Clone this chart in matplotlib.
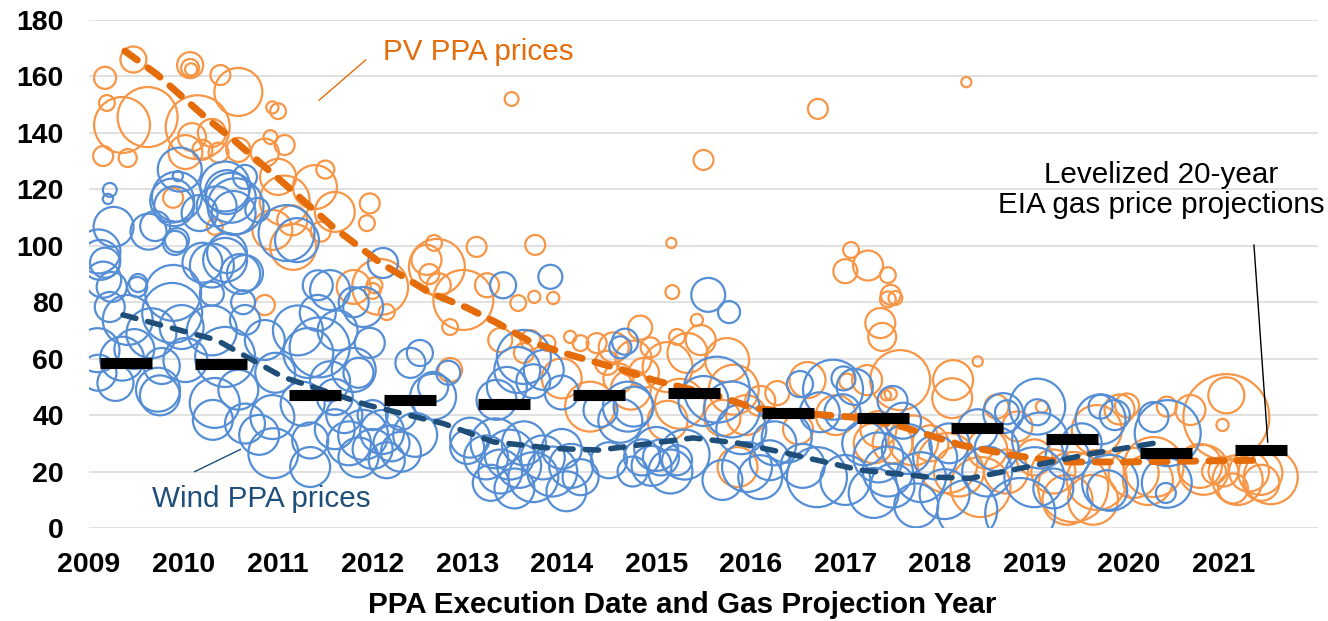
import matplotlib
matplotlib.use("Agg")
import matplotlib.pyplot as plt
import numpy as np

plt.rcParams['font.family'] = ['Liberation Sans', 'DejaVu Sans']

# PV PPAs: execution date, levelized price ($/MWh), capacity (MW)
pv_year = [
    2009.47, 2009.17, 2009.19, 2009.35, 2009.62, 2009.15, 2009.41, 2010.07, 2010.07, 2010.08,
    2010.39, 2010.58, 2010.15, 2010.94, 2011.00, 2010.09, 2010.30, 2010.02, 2010.20, 2010.37,
    2010.58, 2010.92, 2011.07, 2010.86, 2011.00, 2011.07, 2011.50, 2011.39, 2011.15, 2011.45,
    2009.89, 2010.33, 2010.94, 2011.97, 2011.94, 2011.60, 2011.16, 2011.80, 2012.00, 2012.57,
    2012.65, 2013.10, 2013.72, 2012.68, 2012.60, 2012.70, 2012.96, 2012.08, 2012.02, 2012.15,
    2012.82, 2013.21, 2013.54, 2013.91, 2012.82, 2013.35, 2013.60, 2013.67, 2013.85, 2014.09,
    2014.20, 2014.37, 2014.00, 2014.30, 2014.83, 2014.55, 2014.76, 2014.87, 2014.60, 2014.48,
    2014.94, 2014.73, 2015.17, 2015.22, 2015.43, 2015.47, 2015.75, 2015.33, 2015.12, 2015.82,
    2015.25, 2015.12, 2015.70, 2015.86, 2016.28, 2016.60, 2017.02, 2017.23, 2017.48, 2017.37,
    2017.39, 2017.48, 2017.00, 2017.06, 2017.24, 2017.45, 2017.53, 2017.45, 2013.47, 2015.50,
    2016.71, 2018.28, 2015.16, 2013.71, 2018.40, 2017.58, 2018.13, 2017.43, 2018.60, 2019.08,
    2018.82, 2019.66, 2019.90, 2019.98, 2019.66, 2019.35, 2018.08, 2018.43, 2017.72, 2020.20,
    2020.40, 2018.14, 2020.65, 2021.03, 2021.03, 2020.99, 2021.50, 2021.39, 2021.15, 2021.00,
    2021.10, 2021.27, 2021.40, 2020.90, 2020.75, 2020.79, 2020.26, 2020.05, 2019.41, 2019.62,
    2017.35, 2017.50, 2017.30, 2017.90, 2018.20, 2018.50, 2018.70, 2019.00, 2019.20, 2016.90,
    2016.10, 2015.95, 2016.50, 2010.86]
pv_price = [
    166, 159.5, 150.6, 142.8, 145.6, 131.8, 131.1, 164, 163, 162.5,
    160.5, 154.5, 142, 149, 147.7, 138.5, 140, 133.2, 134, 133,
    134, 138.5, 135.7, 133, 124.4, 116, 127, 120.8, 109, 105,
    117, 106.7, 105.6, 115, 108, 112, 99.6, 85.4, 84, 95,
    101, 99.6, 100.3, 92.5, 90, 86, 80.8, 85.4, 86, 76.5,
    71.2, 86, 79.7, 81.5, 56, 66.6, 62, 66.6, 65.5, 67.7,
    65.5, 65.5, 53, 43, 71, 64, 60, 55, 53, 58.5,
    64, 49, 83.6, 67.7, 73.7, 66.6, 59.5, 62, 57, 49,
    44, 38, 39, 21.6, 47.8, 52.4, 51.9, 52.4, 47.5, 72.6,
    67.7, 82.6, 91, 98.5, 93, 81, 81.5, 89.6, 152, 130.4,
    148.5, 158, 101, 81.9, 59, 52.4, 46, 47, 43, 43,
    36, 34.7, 42, 43.4, 17, 10, 23, 14.5, 31, 17,
    43, 52.4, 41.8, 47, 39.3, 36.5, 18, 19.5, 17, 20,
    14, 20, 16, 20, 22, 20.6, 21.6, 19.5, 14.5, 10,
    35, 30, 30, 30, 20, 28, 20, 25, 20, 40,
    45, 40, 35, 79]
pv_mw = [
    46, 33, 17, 212, 244, 27, 22, 46, 22, 10,
    27, 156, 277, 10, 17, 53, 53, 78, 27, 27,
    39, 13, 27, 53, 88, 169, 22, 131, 61, 27,
    27, 17, 108, 27, 17, 108, 143, 78, 17, 61,
    17, 27, 27, 212, 27, 39, 244, 212, 17, 17,
    17, 39, 17, 10, 39, 39, 27, 27, 17, 10,
    17, 27, 108, 169, 39, 61, 88, 61, 61, 39,
    27, 108, 13, 17, 10, 61, 131, 108, 169, 169,
    169, 108, 88, 108, 39, 88, 17, 61, 10, 61,
    53, 27, 39, 17, 61, 17, 13, 17, 13, 27,
    27, 7, 7, 10, 7, 244, 108, 7, 39, 10,
    61, 169, 61, 39, 244, 169, 244, 244, 169, 169,
    27, 108, 61, 88, 500, 10, 198, 131, 169, 61,
    61, 108, 88, 39, 131, 169, 244, 169, 332, 169,
    88, 108, 108, 88, 169, 108, 131, 88, 131, 108,
    61, 108, 61, 27]

# Wind PPAs: execution date, levelized price ($/MWh), capacity (MW)
wind_year = [
    2009.22, 2009.20, 2009.26, 2009.63, 2009.96, 2009.93, 2009.90, 2009.88, 2009.94, 2010.44,
    2010.46, 2010.50, 2010.55, 2010.35, 2010.65, 2010.17, 2010.53, 2010.78, 2009.93, 2011.09,
    2011.20, 2010.46, 2010.30, 2010.60, 2009.51, 2009.89, 2009.12, 2009.10, 2009.15, 2011.55,
    2012.11, 2011.80, 2009.17, 2009.24, 2009.52, 2009.22, 2009.41, 2009.88, 2009.98, 2009.66,
    2009.48, 2009.77, 2009.35, 2009.09, 2009.10, 2009.28, 2009.73, 2009.75, 2010.20, 2010.44,
    2010.65, 2009.91, 2009.70, 2010.30, 2010.63, 2010.30, 2010.44, 2010.02, 2010.86, 2010.65,
    2010.97, 2010.58, 2010.33, 2011.21, 2011.42, 2011.42, 2011.32, 2011.63, 2010.94, 2010.65,
    2011.26, 2011.60, 2010.31, 2010.95, 2011.34, 2011.34, 2010.80, 2011.60, 2011.75, 2011.90,
    2012.00, 2012.10, 2012.20, 2012.30, 2012.45, 2011.70, 2012.00, 2012.30, 2011.85, 2012.15,
    2012.40, 2011.97, 2011.44, 2011.80, 2012.64, 2011.90, 2013.38, 2013.88, 2011.55, 2011.85,
    2012.80, 2012.50, 2012.64, 2013.03, 2013.53, 2013.60, 2013.70, 2013.42, 2013.81, 2013.31,
    2014.00, 2013.20, 2013.30, 2013.35, 2013.45, 2013.55, 2013.60, 2013.70, 2013.80, 2013.90,
    2014.00, 2014.10, 2014.20, 2013.50, 2013.25, 2014.05, 2013.00, 2014.67, 2014.62, 2014.41,
    2014.76, 2014.85, 2014.95, 2015.05, 2015.15, 2014.75, 2015.00, 2014.50, 2015.22, 2015.55,
    2015.77, 2015.64, 2015.50, 2015.80, 2015.90, 2014.70, 2014.62, 2015.30, 2015.96, 2016.10,
    2015.70, 2016.20, 2016.52, 2016.87, 2016.73, 2016.97, 2016.70, 2017.00, 2016.38, 2016.25,
    2017.30, 2017.45, 2017.61, 2017.10, 2017.20, 2017.35, 2017.50, 2017.65, 2017.80, 2017.95,
    2018.05, 2017.75, 2018.10, 2018.29, 2018.67, 2018.85, 2019.03, 2019.06, 2019.00, 2019.20,
    2019.70, 2019.70, 2019.85, 2019.77, 2019.80, 2020.41, 2020.26, 2020.40, 2020.39, 2019.03,
    2018.71, 2016.98, 2018.50, 2018.60, 2018.40, 2019.35, 2019.50, 2016.55, 2017.50]
wind_price = [
    119.8, 116.6, 106.7, 105, 127, 117.4, 114, 116, 124.7, 121,
    119, 117, 114, 114, 124.4, 111.6, 111.6, 112.7, 102, 104.5,
    102, 97.4, 93, 90, 85.4, 83.3, 95, 98, 88, 84.3,
    93.9, 80, 94, 85.4, 86.8, 78.3, 73.7, 76.2, 71.2, 69,
    63.4, 57.4, 60, 63, 55, 51.4, 49, 47, 94, 95,
    90.3, 101, 107, 83, 80, 70, 60.6, 59.5, 66.6, 73.7,
    55, 49, 44.3, 70, 76.2, 86, 62, 70, 39.3, 37,
    44, 46.4, 38.3, 26.5, 21.6, 31, 33, 35, 30, 33,
    28, 34, 30, 27, 33, 40, 40, 40, 25, 24,
    58.5, 65.6, 64, 56, 50, 78.3, 86, 89, 52, 55,
    55, 62, 46.5, 32, 56, 60.6, 52, 50, 56, 45.4,
    48, 25, 30, 20, 26, 22, 30, 18, 25, 20,
    28, 22, 18, 14, 16, 13, 28.7, 66, 64, 41.8,
    43, 25, 22, 25, 20, 20, 28, 24, 24, 82.6,
    76.5, 49, 45, 42, 35, 43, 38, 26, 21.6, 18,
    17, 24, 51, 49, 41, 41, 18, 17, 32, 30,
    12.4, 20, 38, 50, 30, 25, 15, 28, 18, 25,
    12, 8, 30, 6.4, 40.7, 5.3, 41, 31, 18, 14,
    43, 38.5, 40, 13.4, 16, 33.6, 39.3, 16, 12.4, 43,
    41, 53, 20, 28, 35, 25, 30, 22, 45]
wind_mw = [
    13, 7, 108, 88, 131, 169, 108, 131, 7, 169,
    131, 169, 212, 108, 39, 88, 131, 39, 39, 212,
    131, 108, 131, 108, 27, 212, 108, 131, 88, 108,
    61, 61, 61, 61, 22, 61, 169, 244, 131, 169,
    108, 88, 131, 131, 88, 88, 131, 108, 108, 131,
    88, 39, 61, 39, 39, 169, 244, 131, 108, 61,
    108, 108, 169, 169, 88, 61, 169, 108, 131, 108,
    131, 88, 108, 169, 108, 88, 108, 108, 131, 169,
    108, 131, 88, 108, 131, 88, 61, 61, 108, 88,
    61, 61, 244, 131, 61, 108, 46, 39, 108, 61,
    39, 46, 143, 108, 143, 198, 78, 108, 108, 108,
    78, 131, 169, 131, 169, 131, 131, 169, 131, 169,
    108, 131, 88, 108, 88, 108, 78, 46, 33, 78,
    108, 88, 108, 88, 131, 61, 131, 88, 61, 78,
    33, 295, 169, 212, 169, 169, 131, 169, 169, 131,
    108, 108, 46, 244, 108, 88, 244, 169, 169, 131,
    169, 169, 88, 88, 131, 169, 131, 169, 169, 131,
    169, 131, 108, 244, 108, 332, 46, 212, 244, 108,
    39, 169, 61, 108, 212, 295, 61, 169, 27, 212,
    39, 39, 169, 131, 108, 131, 108, 131, 61]

# smoothed trends
pv_trend_year = [2009.38, 2009.72, 2010.25, 2010.53, 2011.10, 2011.58, 2012.08, 2012.61, 2013.00,
                 2013.32, 2013.67, 2014.02, 2014.33, 2014.65, 2014.97, 2015.68, 2016.03, 2016.60,
                 2017.19, 2017.61, 2018.22, 2018.75, 2019.28, 2019.98, 2020.68, 2021.37]
pv_trend_price = [169, 160.7, 145, 137.5, 121, 106.7, 94, 83.3, 78,
                  72.6, 66, 62, 59, 56, 52.4, 46.5, 42.5, 40.5,
                  39, 35.8, 29.4, 25.9, 23.4, 23.4, 23.7, 24]
wind_trend_year = [2009.36, 2010.35, 2011.05, 2011.94, 2012.50, 2012.75, 2013.28, 2013.90, 2014.40,
                   2014.97, 2015.39, 2015.86, 2016.38, 2017.16, 2017.87, 2018.32, 2018.92, 2019.63,
                   2020.26, 2020.36]
wind_trend_price = [75.5, 66.6, 53.5, 43.6, 39, 37, 30.5, 28.2, 27.6,
                    30.1, 31.9, 30.1, 26.5, 20.5, 18.1, 17.6, 21.6, 26.5,
                    30, 30.2]

# levelized 20-year EIA gas price projection by year
gas_year = [2009, 2010, 2011, 2012, 2013, 2014, 2015, 2016, 2017, 2018, 2019, 2020, 2021]
gas_price = [58.5, 58, 47, 45.4, 43.8, 47, 48, 40.6, 39, 35.3, 31.4, 26.5, 27.6]

pv_col = '#F79646'
wind_col = '#558ED5'
pv_dark = '#E46C0A'
wind_dark = '#1F4E79'

dpi = 100
fig = plt.figure(figsize=(13.28, 6.21), dpi=dpi)
ax = fig.add_axes([0.067, 0.1498, 0.9255, 0.818])


def bubble_area(mw):
    # bubble area proportional to capacity; radius in pixels
    r_px = 1.92 * np.sqrt(np.asarray(mw, dtype=float))
    return (2 * r_px * 72.0 / dpi) ** 2


ax.scatter(pv_year, pv_price, s=bubble_area(pv_mw), facecolors='none',
           edgecolors=pv_col, linewidths=1.6, zorder=2)
ax.scatter(wind_year, wind_price, s=bubble_area(wind_mw), facecolors='none',
           edgecolors=wind_col, linewidths=1.6, zorder=3)

ax.plot(pv_trend_year, pv_trend_price, color=pv_dark, lw=5, dashes=(2.2, 1.9),
        dash_capstyle='round', zorder=4)
ax.plot(wind_trend_year, wind_trend_price, color=wind_dark, lw=4, dashes=(2.4, 2.2),
        dash_capstyle='round', zorder=4)

gy = np.array(gas_year, dtype=float)
ax.hlines(gas_price, gy + 0.12, gy + 0.67, colors='black', lw=8, zorder=5)

# labels
fs_note = 21.3
ax.text(2012.11, 165.8, 'PV PPA prices', color=pv_dark, fontsize=fs_note, ha='left', va='baseline')
ax.annotate('', xy=(2011.41, 150.9), xytext=(2011.95, 166.5),
            arrowprops=dict(arrowstyle='-', color=pv_dark, lw=1))
ax.text(2009.67, 7.4, 'Wind PPA prices', color=wind_dark, fontsize=fs_note, ha='left', va='baseline')
ax.annotate('', xy=(2010.63, 28.3), xytext=(2010.09, 19.5),
            arrowprops=dict(arrowstyle='-', color=wind_dark, lw=1))
ax.text(2020.34, 119.8, 'Levelized 20-year\nEIA gas price projections', color='black',
        fontsize=fs_note, ha='center', va='center', linespacing=1.1)
ax.annotate('', xy=(2021.47, 29.4), xytext=(2021.32, 101.3),
            arrowprops=dict(arrowstyle='-', color='black', lw=1), zorder=6)

ax.set_xlim(2009, 2022)
ax.set_ylim(0, 180)
ax.set_yticks(range(0, 181, 20))
ax.set_xticks(gas_year)
ax.set_xticklabels([str(y) for y in gas_year])
ax.tick_params(axis='both', length=0, labelsize=20.5)
ax.tick_params(axis='y', pad=18)
ax.tick_params(axis='x', pad=17)
for lbl in ax.get_xticklabels() + ax.get_yticklabels():
    lbl.set_fontweight('bold')
ax.yaxis.grid(True, color='#D9D9D9', lw=1.1)
ax.set_axisbelow(True)
for sp in ax.spines.values():
    sp.set_visible(False)

ax.set_xlabel('PPA Execution Date and Gas Projection Year', fontsize=fs_note, fontweight='bold')
ax.xaxis.set_label_coords(0.483, -0.125)

fig.savefig('out.png', dpi=dpi)
